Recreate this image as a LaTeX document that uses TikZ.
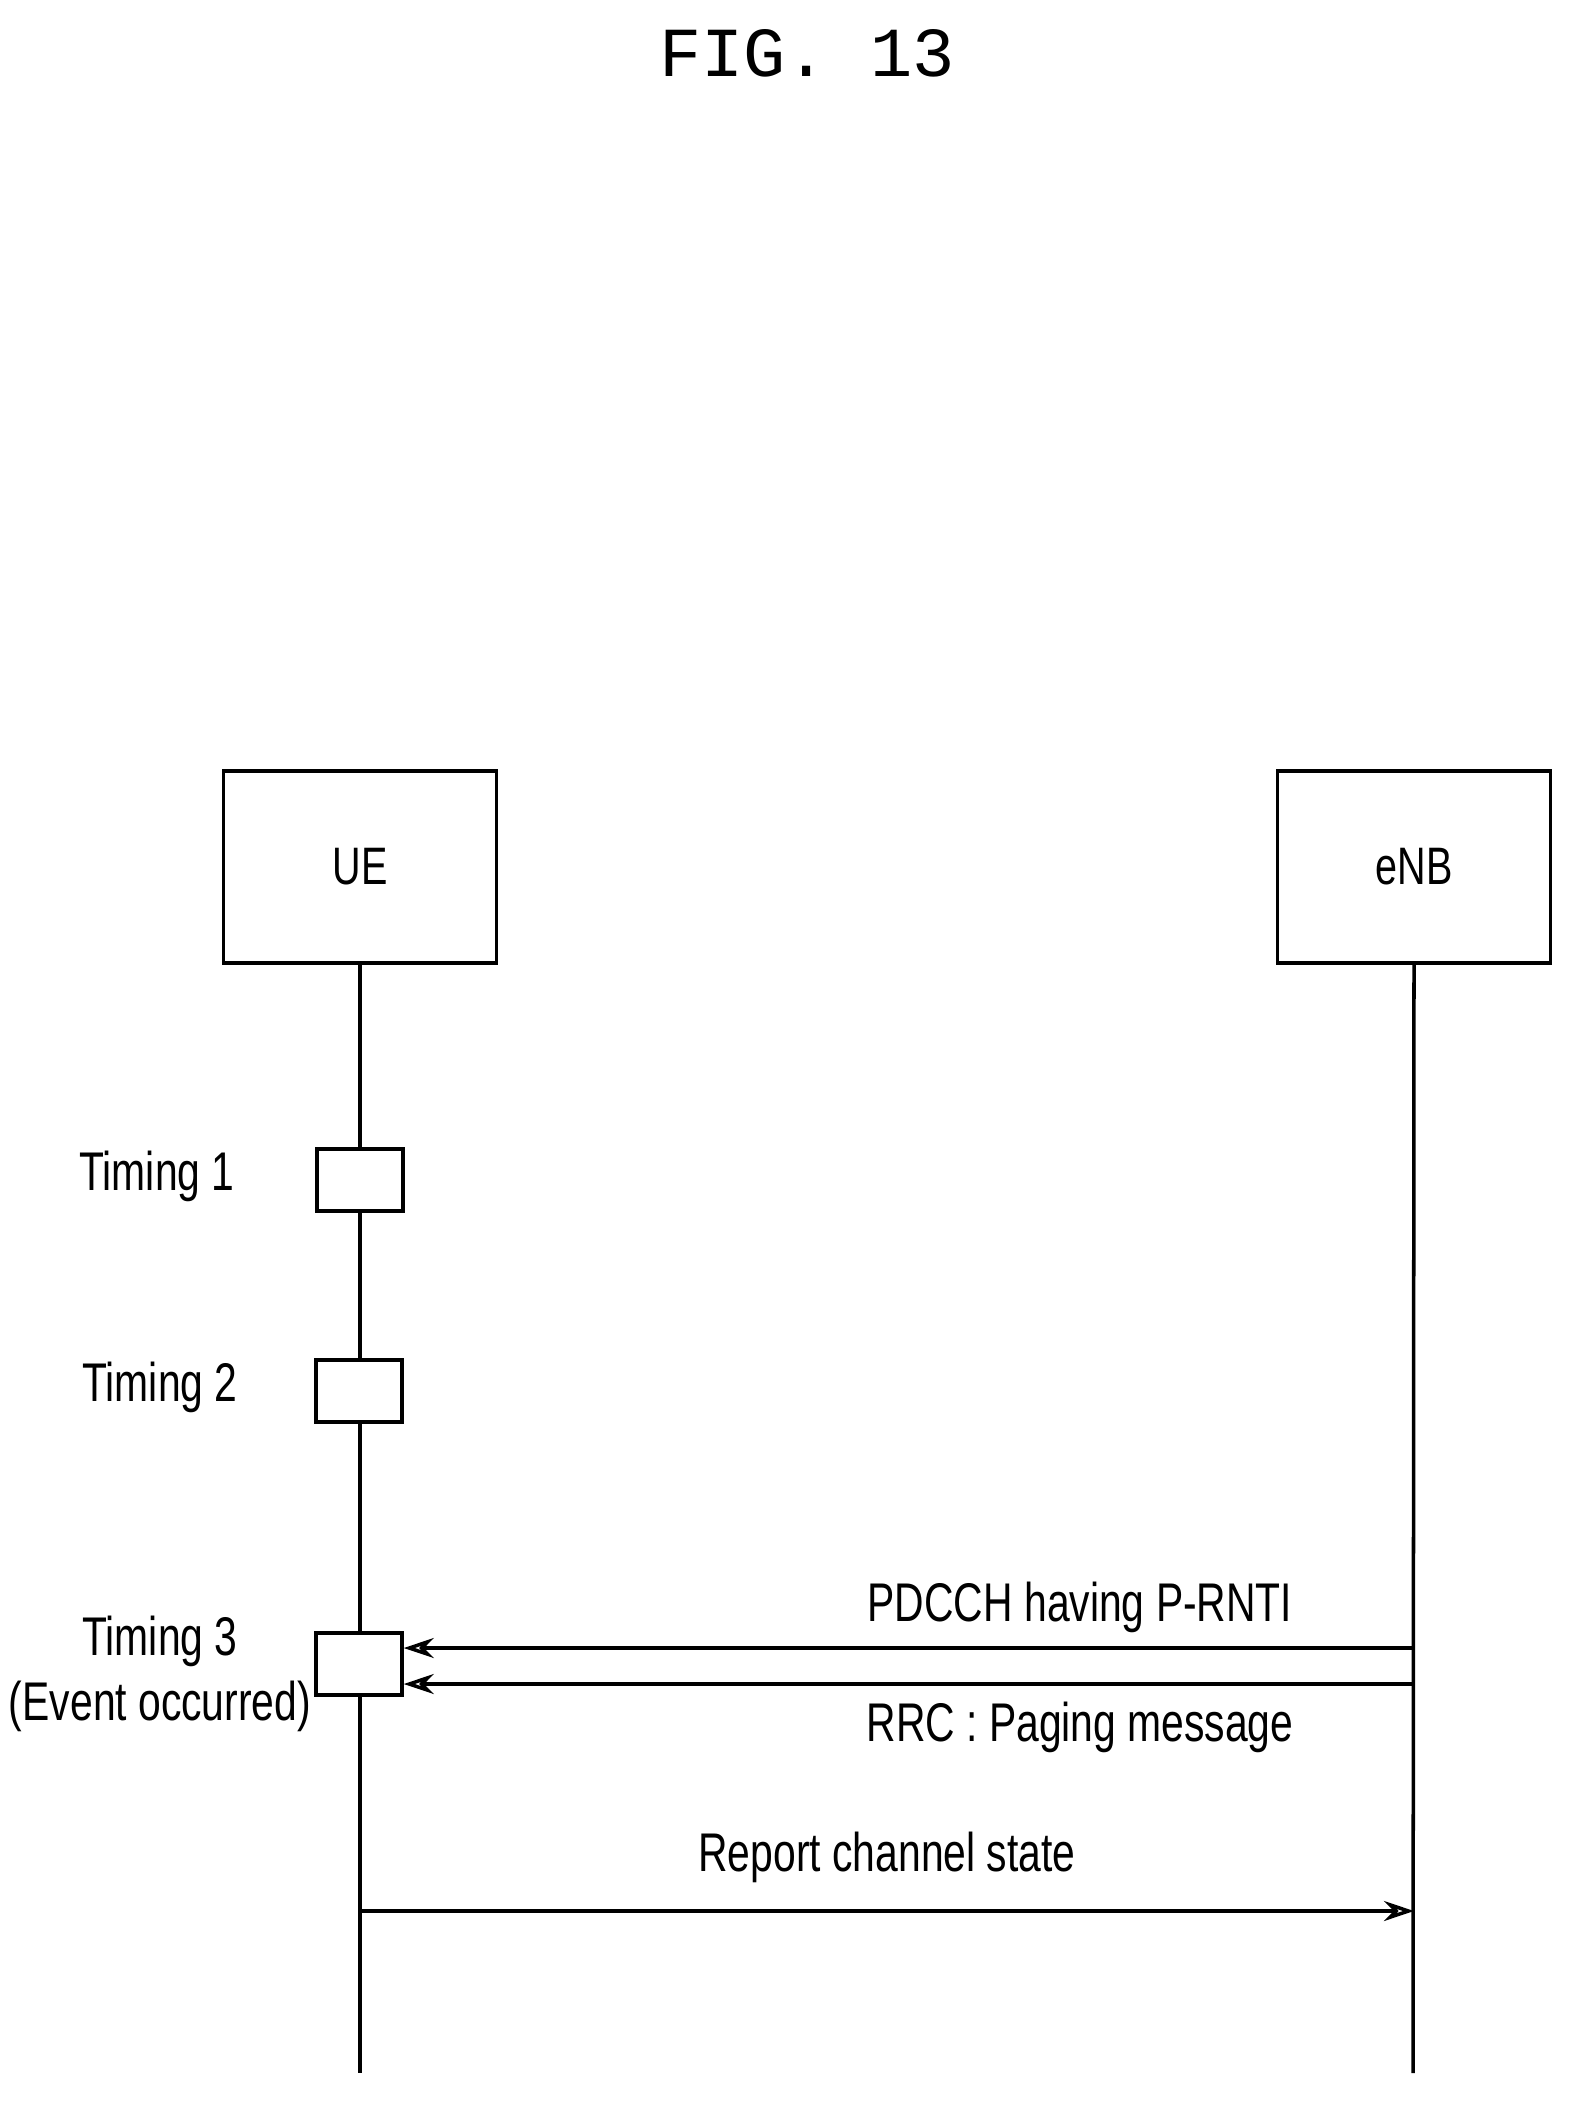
\documentclass[tikz,border=0pt]{standalone}
\usepackage{fontspec}
\setmainfont{Liberation Sans}[FakeStretch=0.75]
\newfontfamily\figfont{Liberation Mono}
\usetikzlibrary{arrows.meta, positioning}
\begin{document}
\begin{tikzpicture}[
    entity/.style={draw, line width=1pt, minimum width=2.73cm, minimum height=1.92cm, font=\fontsize{15}{18}\selectfont},
    slot/.style={draw, line width=1pt, minimum width=0.86cm, minimum height=0.62cm},
    lbl/.style={font=\fontsize{15.5}{18.5}\selectfont, align=center},
    msg/.style={line width=1pt, -{Stealth[open, length=0.3cm, width=0.2cm]}}
]
    \useasboundingbox (0,0) rectangle (15.8,-21.02);

    \node[font=\figfont\fontsize{20}{24}\selectfont] (title) at (8.07,-0.53) {FIG. 13};

    \node[entity] (ue) at (3.60,-8.67) {UE};
    \node[entity] (enb) at (14.14,-8.67) {eNB};

    \coordinate (ueend) at (3.60,-20.73);
    \coordinate (enbend) at (14.13,-20.73);
    \draw[line width=1pt] (ue.south) -- (ueend);
    \draw[line width=1pt] (enb.south) -- (enbend);

    \node[slot, fill=white] (t1) at (3.60,-11.80) {};
    \node[slot, fill=white] (t2) at (3.59,-13.91) {};
    \node[slot, fill=white] (t3) at (3.59,-16.64) {};

    \node[lbl] (l1) at (1.57,-11.76) {Timing 1};
    \node[lbl] (l2) at (1.60,-13.87) {Timing 2};
    \node[lbl, align=center] (l3) at (1.60,-16.74) {Timing 3\\(Event occurred)};

    % messages
    \coordinate (p1) at (enb.south |- 0,-16.48);
    \coordinate (p2) at (enb.south |- 0,-16.84);
    \coordinate (r1) at (ue.south |- 0,-19.11);
    \coordinate (r2) at (enb.south |- 0,-19.11);
    \draw[msg] (p1) -- (p1 -| t3.east);
    \draw[msg] (p2) -- (p2 -| t3.east);
    \node[lbl] (pdcch) at (10.80,-16.07) {PDCCH having P-RNTI};
    \node[lbl] (rrc) at (10.80,-17.27) {RRC : Paging message};
    \draw[msg] (r1) -- (r2) node[lbl, midway, above=0.15cm] {Report channel state};
\end{tikzpicture}
\end{document}
